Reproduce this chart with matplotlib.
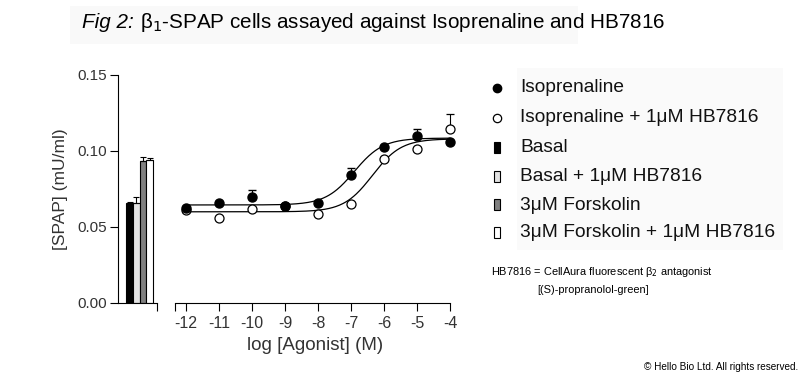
import numpy as np
import matplotlib
matplotlib.use("Agg")
import matplotlib.pyplot as plt
from matplotlib.patches import Rectangle

plt.rcParams['font.family'] = ['Liberation Sans', 'DejaVu Sans']

# dose-response data
log_agonist = [-12, -11, -10, -9, -8, -7, -6, -5, -4]
iso = [0.0627, 0.0660, 0.0700, 0.0640, 0.0656, 0.0840, 0.1028, 0.1097, 0.1058]
iso_err = [0, 0, 0.0044, 0, 0, 0.0050, 0, 0.0049, 0]
iso_hb = [0.0613, 0.0560, 0.0616, 0.0640, 0.0583, 0.0649, 0.0947, 0.1013, 0.1146]
iso_hb_err = [0, 0, 0, 0, 0, 0, 0, 0, 0.0099]

# sigmoid fit parameters (bottom, top, logEC50)
fit_iso = (0.0645, 0.1085, -6.9)
fit_iso_hb = (0.0600, 0.1080, -6.35)

# control bars
bar_labels = ["Basal", "Basal + 1μM HB7816", "3μM Forskolin", "3μM Forskolin + 1μM HB7816"]
bar_values = [0.0655, 0.0660, 0.0935, 0.0942]
bar_err = [0.0010, 0.0038, 0.0025, 0.0012]
bar_colors = ["black", "#e2e2e2", "#808080", "white"]

fig = plt.figure(figsize=(8, 3.75), dpi=100)

# faint background bands like the original
fig.patches.append(Rectangle((70/800, 1-44/375), 508/800, 38/375, transform=fig.transFigure,
                             facecolor="#f9f9f9", edgecolor="none", zorder=0))
fig.patches.append(Rectangle((517/800, 1-250/375), 266/800, 182/375, transform=fig.transFigure,
                             facecolor="#fafafa", edgecolor="none", zorder=0))

bottom = 1 - 303/375
height = (303 - 75) / 375
tick_col = "#333333"

# bar panel
axb = fig.add_axes([118/800, bottom, 39/800, height])
axb.patch.set_alpha(0)
xb = np.arange(len(bar_values))
axb.bar(xb, bar_values, width=1.0, color=bar_colors, edgecolor="black", linewidth=0.8,
        yerr=[np.zeros(4), bar_err], capsize=2.5, error_kw=dict(elinewidth=0.8, capthick=0.8))
axb.set_xlim(-1.75, 4.1)
axb.set_ylim(0, 0.15)
axb.set_yticks([0, 0.05, 0.10, 0.15])
axb.set_yticklabels(["0.00", "0.05", "0.10", "0.15"])
axb.set_xticks([4.1])
axb.set_xticklabels([""])
for s in ["top", "right"]:
    axb.spines[s].set_visible(False)
axb.tick_params(direction="out", length=6, width=0.8, labelsize=11, colors="black",
                labelcolor=tick_col, pad=2)
axb.set_ylabel("[SPAP] (mU/ml)", fontsize=12.5, labelpad=7, color=tick_col)

# dose-response panel
ax = fig.add_axes([175/800, bottom, (455-175)/800, height])
ax.patch.set_alpha(0)
xs = np.linspace(-12, -4, 300)
for (b, t, ec) in [fit_iso, fit_iso_hb]:
    ax.plot(xs, b + (t - b) / (1 + 10 ** (ec - xs)), color="black", lw=0.9, zorder=2)
ax.errorbar(log_agonist, iso_hb, yerr=[np.zeros(9), iso_hb_err], fmt="o", ms=6.5, mfc="white",
            mec="black", mew=0.9, ecolor="black", elinewidth=0.8, capsize=3, zorder=3)
ax.errorbar(log_agonist, iso, yerr=[np.zeros(9), iso_err], fmt="o", ms=6.5, mfc="black",
            mec="black", ecolor="black", elinewidth=0.8, capsize=3, zorder=4)
ax.set_xlim(-12.33, -3.85)
ax.set_ylim(0, 0.15)
ax.set_xticks([-12.33] + log_agonist)
ax.set_xticklabels([""] + [str(v) for v in log_agonist])
ax.spines["bottom"].set_bounds(-12.33, -4)
for s in ["top", "right", "left"]:
    ax.spines[s].set_visible(False)
ax.set_yticks([])
ax.tick_params(direction="out", length=6, width=0.8, labelsize=11.5, colors="black",
               labelcolor=tick_col, pad=3)
ax.set_xlabel("log [Agonist] (M)", fontsize=13.5, labelpad=5, color=tick_col)

# title: italic "Fig 2:" then the rest
t1 = fig.text(82/800, 1-23/375, "Fig 2: ", fontsize=14.9, style="italic", va="center", ha="left")
fig.canvas.draw()
bb = t1.get_window_extent()
fig.text(bb.x1 / 800, 1-23/375, "β$_1$-SPAP cells assayed against Isoprenaline and HB7816",
         fontsize=14.9, va="center", ha="left")

# legend
rows_y = [88, 118, 147, 176, 205, 233]
leg_labels = ["Isoprenaline", "Isoprenaline + 1μM HB7816"] + bar_labels
for i, (yy, lab) in enumerate(zip(rows_y, leg_labels)):
    fy = 1 - yy/375
    if i == 0:
        fig.lines.append(plt.Line2D([497/800], [fy], marker="o", ms=6, mfc="black", mec="black",
                                    transform=fig.transFigure))
    elif i == 1:
        fig.lines.append(plt.Line2D([497/800], [fy], marker="o", ms=6, mfc="white", mec="black",
                                    mew=0.9, transform=fig.transFigure))
    else:
        c = bar_colors[i - 2]
        fig.patches.append(Rectangle((494/800, fy - 5.5/375), 6/800, 11/375, transform=fig.transFigure,
                                     facecolor=c, edgecolor="black", linewidth=0.8))
    fig.text(520/800, fy, lab, fontsize=13.8, va="center", ha="left", color="#111111")

fig.text(491/800, 1-272/375, "HB7816 = CellAura fluorescent β$_2$ antagonist", fontsize=7.9,
         va="center", ha="left")
fig.text(537/800, 1-290/375, "[(S)-propranolol-green]", fontsize=7.9, va="center", ha="left")
fig.text(798/800, 1-367/375, "© Hello Bio Ltd. All rights reserved.", fontsize=7.2,
         va="center", ha="right")

fig.savefig("out.png", dpi=100)
